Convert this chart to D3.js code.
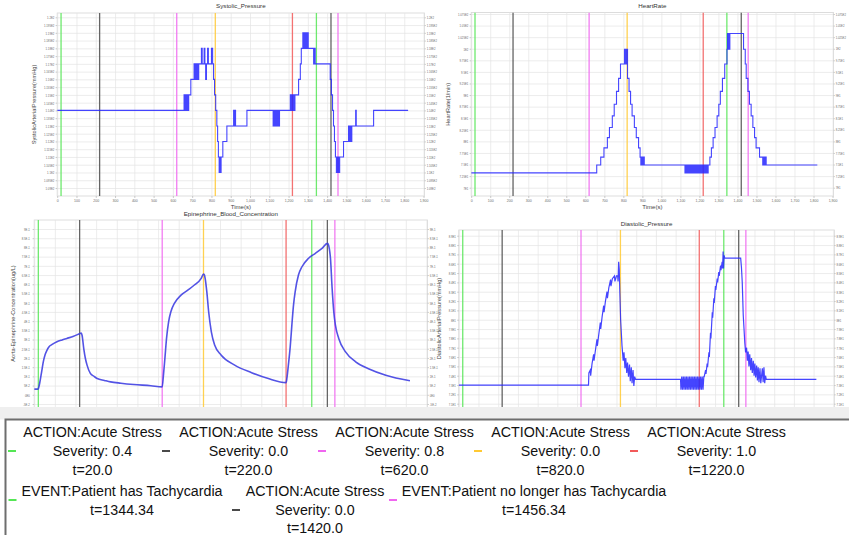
<!DOCTYPE html>
<html><head><meta charset="utf-8">
<script src="https://cdn.jsdelivr.net/npm/d3@7"></script>
<style>html,body{margin:0;padding:0;background:#fff;}svg{display:block}</style>
</head><body>
<svg id="c" width="849" height="535"></svg>
<script>
// ---------------- DATA ----------------
const xTickValues = [0,100,200,300,400,500,600,700,800,900,1000,1100,1200,1300,1400,1500,1600,1700,1800,1900];
const xTickLabels = ["0","100","200","300","400","500","600","700","800","900","1,000","1,100","1,200","1,300","1,400","1,500","1,600","1,700","1,800","1,900"];

const sysTicks = [120,119.5,119,118.5,118,117.5,117,116.5,116,115.5,115,114.5,114,113.5,113,112.5,112,111.5,111,110.5,110,109.5,109];
const sysTickLabels = ["1.2E2","1.195E2","1.19E2","1.185E2","1.18E2","1.175E2","1.17E2","1.165E2","1.16E2","1.155E2","1.15E2","1.145E2","1.14E2","1.135E2","1.13E2","1.125E2","1.12E2","1.115E2","1.11E2","1.105E2","1.1E2","1.095E2","1.09E2"];

const hrTicks = [107.5,105,102.5,100,97.5,95,92.5,90,87.5,85,82.5,80,77.5,75,72.5,70];
const hrTickLabels = ["1.075E2","1.05E2","1.025E2","1E2","9.75E1","9.5E1","9.25E1","9E1","8.75E1","8.5E1","8.25E1","8E1","7.75E1","7.5E1","7.25E1","7E1"];

const epiTicks = [0.9,0.85,0.8,0.75,0.7,0.65,0.6,0.55,0.5,0.45,0.4,0.35,0.3,0.25,0.2,0.15,0.1,0.05,0,-0.05];
const epiTickLabels = ["9E-1","8.5E-1","8E-1","7.5E-1","7E-1","6.5E-1","6E-1","5.5E-1","5E-1","4.5E-1","4E-1","3.5E-1","3E-1","2.5E-1","2E-1","1.5E-1","1E-1","5E-2","0E0","-5E-2"];

const diaTicks = [89,88,87,86,85,84,83,82,81,80,79,78,77,76,75,74,73,72,71];
const diaTickLabels = ["8.9E1","8.8E1","8.7E1","8.6E1","8.5E1","8.4E1","8.3E1","8.2E1","8.1E1","8E1","7.9E1","7.8E1","7.7E1","7.6E1","7.5E1","7.4E1","7.3E1","7.2E1","7.1E1"];

// Systolic pressure (stepped)
const sysT = [0,658,662,666,670,674,678,682, 693,710,714,718,722,726,730,734, 748,752,762,766,770,774,780,784, 800,806,811,816,822,828,832,836, 840,844,846,850,859,880,915,918, 922,925,984,1120,1123,1126,1129,1132, 1135,1138,1141,1144,1147,1150,1153,1209, 1212,1215,1218,1221,1224,1227,1230,1233, 1252,1261,1266,1274,1277,1280,1283,1286, 1289,1292,1296,1299,1302,1330,1333,1338, 1416,1422,1428,1433,1438,1443,1448,1452, 1455,1459,1462,1465,1485,1511,1516,1520, 1524,1528,1548,1551,1641,1820];
const sysV = [114,115,114,115,114,115,114,115, 116,117,116,117,116,117,116,117, 118,117,118,117,116,117,118,117, 118,117,116,115,114,113,112,111, 110,111,110,111,112,113,114,113, 114,113,114,113,114,113,114,113, 114,113,114,113,114,113,114,115, 114,115,114,115,114,115,114,115, 116,117,118,119,118,119,118,119, 118,119,118,119,118,117,118,117, 116,115,114,113,112,111,110,111, 110,111,110,111,112,113,112,113, 112,113,114,113,114,114];

// Heart rate (stepped)
const hrT = [0,660,681,698,716,727,742,752,764,775,785,806,808,810,812,814,816,818,822,830,838,846,858,868,880,888,892,895,898,901,904,907,910,
  1124,1128,1132,1136,1140,1144,1148,1152,1156,1160,1164,1168,1172,1176,1180,1184,1188,1192,1196,1200,1204,1208,1212,1216,1220,1224,1228,1232,1236,1240,1244,
  1246,1255,1263,1272,1282,1293,1302,1310,1321,1333,1345,1348,1351,1354,1357,1360,1432,1441,1446,1455,1463,1472,1481,1490,1498,1516,1533,1536,1539,1542,1545,1548,1551,1820];
const hrV = [73.2,74.9,76.6,78.6,80.8,83.0,85.5,88.0,90.8,93.6,96.7,99.9,96.7,99.9,96.7,99.9,96.7,99.9,93.6,90.8,88.0,85.5,83.0,80.8,78.6,76.6,74.9,76.6,74.9,76.6,74.9,76.6,74.9,
  73.2,74.9,73.2,74.9,73.2,74.9,73.2,74.9,73.2,74.9,73.2,74.9,73.2,74.9,73.2,74.9,73.2,74.9,73.2,74.9,73.2,74.9,73.2,74.9,73.2,74.9,73.2,74.9,73.2,74.9,73.2,
  74.9,76.6,78.6,80.8,83.0,85.5,88.0,90.8,93.6,96.7,99.9,103.3,99.9,103.3,99.9,103.3,99.9,96.7,93.6,90.8,88.0,85.5,83.0,80.8,78.6,76.6,74.9,76.6,74.9,76.6,74.9,76.6,74.9,74.9];

// Epinephrine concentration
const epiT = [0,18,20,26,36,44,52,61,73,85, 110,135,158,191,223,228,232,240,248,256, 272,290,305,340,370,420,483,565,620,626, 633,641,651,662,679,711,744,776,809,820, 824,828,836,845,858,874,906,971,1053,1134, 1220,1224,1231,1240,1248,1256,1264,1280,1297,1329, 1362,1394,1420,1424,1430,1435,1443,1451,1459,1475, 1508,1557,1622,1703,1820];
const epiV = [0.031,0.031,0.034,0.06,0.125,0.179,0.215,0.240,0.262,0.272, 0.288,0.298,0.306,0.318,0.333,0.335,0.322,0.251,0.197,0.161, 0.116,0.10,0.088,0.078,0.070,0.063,0.056,0.049,0.043,0.107, 0.197,0.306,0.396,0.451,0.496,0.541,0.568,0.596,0.632,0.655, 0.652,0.632,0.56,0.451,0.342,0.270,0.215,0.161,0.120,0.088, 0.066,0.09,0.16,0.26,0.378,0.487,0.559,0.65,0.695,0.741, 0.768,0.795,0.822,0.818,0.79,0.741,0.578,0.451,0.378,0.306, 0.233,0.179,0.140,0.106,0.076];

// Diastolic pressure
const diaT = [0,658,660,667,669,676,684,686,693,701,703,710,718,720,727,735,737,744,752,754,761,770,772,779,790,792,800,806,808,811,814,817,821,828,834,838,843,847,852,856,861,866,870,875,879,884,888,892,897,922,1125,
  1127,1131,1135,1139,1143,1147,1151,1155,1159,1163,1167,1171,1175,1179,1183,1187,1191,1195,1199,1203,1207,1211,1215,1219,1223,1227,1231,1235,1239,1243,
  1245,1252,1254,1260,1262,1269,1271,1277,1279,1286,1288,1294,1296,1302,1304,1311,1313,1319,1321,1328,1330,1336,1338,1341,1343,1346,1349,1430,1434,1438,1443,1447,1451,1455,1460,1464,1468,1472,1476,1481,1485,1489,1494,1498,1502,1506,1511,1515,1519,1523,1528,1532,1540,1544,1548,1552,1556,1560,1814];
const diaV = [73.0,73.0,74.3,74.6,74.0,75.3,76.3,75.6,76.7,77.9,77.2,78.4,79.7,79.0,80.3,81.5,80.8,82.0,83.0,82.3,83.4,84.3,83.6,84.4,84.7,84.1,84.7,84.7,84.1,86.2,85.4,83.0,80.0,77.2,75.6,76.5,74.8,75.9,74.3,75.4,73.9,75.2,73.4,74.9,73.2,74.6,72.9,73.9,73.6,73.6,73.6,
  72.5,73.9,72.5,73.9,72.5,73.9,72.5,73.9,72.5,73.9,72.5,73.9,72.5,73.9,72.5,73.9,72.5,73.9,72.5,73.9,72.5,73.9,72.5,73.9,72.5,73.9,72.5,73.9,72.5,73.9,
  73.9,74.6,74.2,75.3,74.9,76.5,76.0,78.6,78.0,80.8,80.2,82.3,81.8,83.6,83.2,84.4,84.0,85.1,84.7,85.8,85.3,86.2,85.5,87.3,85.5,86.9,86.6,86.6,85.6,84.0,80.5,79.0,77.5,76.5,77.0,75.6,76.6,75.0,76.3,74.6,75.9,74.3,75.6,74.0,75.3,73.8,75.1,73.5,74.9,73.3,74.8,73.2,74.8,73.3,74.9,73.2,74.0,73.6,73.6];

// Events
const eventTimes = [20,220,620,820,1220,1344.34,1420,1456.34];
const eventColors = ["#55e655","#4a4a4a","#f066f0","#ffc933","#f25a5a","#55e655","#4a4a4a","#f066f0"];

// Legend
const legendTexts = [
  ["ACTION:Acute Stress","Severity: 0.4","t=20.0"],
  ["ACTION:Acute Stress","Severity: 0.0","t=220.0"],
  ["ACTION:Acute Stress","Severity: 0.8","t=620.0"],
  ["ACTION:Acute Stress","Severity: 0.0","t=820.0"],
  ["ACTION:Acute Stress","Severity: 1.0","t=1220.0"],
  ["EVENT:Patient has Tachycardia","t=1344.34"],
  ["ACTION:Acute Stress","Severity: 0.0","t=1420.0"],
  ["EVENT:Patient no longer has Tachycardia","t=1456.34"]
];

// ---------------- DRAW ----------------
const svg = d3.select("#c");
const XMAX = 1905;
const FONT = "'Liberation Sans', Arial, sans-serif";

function squeeze(sel, f) {
  sel.each(function() {
    const L = this.getComputedTextLength();
    if (L > 0) d3.select(this).attr("textLength", L * f).attr("lengthAdjust", "spacingAndGlyphs");
  });
}

const panels = [
  {x0:57.2, x1:424.5, top:13, bottom:196, yTop:17.3, yBot:188, ticks:sysTicks, labels:sysTickLabels, t:sysT, v:sysV, curve:d3.curveStepAfter,
   title:"Systolic_Pressure", titleY:7.5, ylabel:"SystolicArterialPressure(mmHg)", ylabelX:36, xAxis:true, lw:1.1, lc:"#2424ff", pad:1.6, rfs:4.2, rsq:0.66},
  {x0:471.2, x1:833.5, top:12.5, bottom:196, yTop:14, yBot:187.7, ticks:hrTicks, labels:hrTickLabels, t:hrT, v:hrV, curve:d3.curveStepAfter,
   title:"HeartRate", titleY:7.5, ylabel:"HeartRate(1/min)", ylabelX:450, xAxis:true, lw:1.1, lc:"#2424ff", pad:1.6, rfs:3.6, rsq:0.77},
  {x0:34.2, x1:427.5, top:220, bottom:416, yTop:229, yBot:404, ticks:epiTicks, labels:epiTickLabels, t:epiT, v:epiV, curve:d3.curveMonotoneX,
   title:"Epinephrine_Blood_Concentration", titleY:215.5, ylabel:"Aorta-Epinephrine-Concentration(ug/L)", ylabelX:15, xAxis:false, lw:1.6, lc:"#3535e0", pad:3, rfs:4.2, rsq:0.66},
  {x0:458.8, x1:834.3, top:230, bottom:416, yTop:235.7, yBot:403.7, ticks:diaTicks, labels:diaTickLabels, t:diaT, v:diaV, curve:d3.curveLinear,
   title:"Diastolic_Pressure", titleY:225.5, ylabel:"DiastolicArterialPressure(mmHg)", ylabelX:441, xAxis:false, lw:1.2, lc:"#2424ff", pad:1.6, rfs:4.2, rsq:0.66}
];

panels.forEach((p, idx) => {
  const g = svg.append("g");
  const x = d3.scaleLinear().domain([0, XMAX]).range([p.x0, p.x1]);
  const y = d3.scaleLinear().domain([p.ticks[p.ticks.length-1], p.ticks[0]]).range([p.yBot, p.yTop]);
  const w = p.x1 - p.x0, h = p.bottom - p.top;

  g.append("rect").attr("x", p.x0).attr("y", p.top).attr("width", w).attr("height", h)
    .attr("fill", "#fff").attr("stroke", "#d4d4d4").attr("stroke-width", 0.8);

  // grids
  const gy = g.append("g").attr("transform", `translate(${p.x0},0)`)
    .call(d3.axisLeft(y).tickValues(p.ticks).tickSize(-w).tickFormat(""));
  gy.select(".domain").remove();
  gy.selectAll("line").attr("stroke", "#e4e4e4").attr("stroke-width", 0.7);
  const gx = g.append("g").attr("transform", `translate(0,${p.bottom})`)
    .call(d3.axisBottom(x).tickValues(xTickValues).tickSize(-h).tickFormat(""));
  gx.select(".domain").remove();
  gx.selectAll("line").attr("stroke", "#e4e4e4").attr("stroke-width", 0.7);

  // axes labels
  const al = g.append("g").attr("transform", `translate(${p.x0},0)`)
    .call(d3.axisLeft(y).tickValues(p.ticks).tickFormat((d,i)=>p.labels[i]).tickSize(1.6).tickPadding(p.pad - 0.3));
  const ar = g.append("g").attr("transform", `translate(${p.x1},0)`)
    .call(d3.axisRight(y).tickValues(p.ticks).tickFormat((d,i)=>p.labels[i]).tickSize(1.4).tickPadding(0.8));
  [[al, 4.2, 0.66], [ar, p.rfs, p.rsq]].forEach(([a, fs, sq]) => {
    a.select(".domain").remove();
    a.selectAll("line").attr("stroke", "#aaa").attr("stroke-width", 0.6);
    a.selectAll("text").attr("font-size", fs).attr("font-family", FONT).attr("fill", "#6a6a6a");
    squeeze(a.selectAll("text"), sq);
  });
  if (p.xAxis) {
    const ab = g.append("g").attr("transform", `translate(0,${p.bottom})`)
      .call(d3.axisBottom(x).tickValues(xTickValues).tickFormat((d,i)=>xTickLabels[i]).tickSize(2).tickPadding(0.8));
    ab.select(".domain").remove();
    ab.selectAll("line").attr("stroke", "#aaa").attr("stroke-width", 0.6);
    ab.selectAll("text").attr("font-size", 4.4).attr("font-family", FONT).attr("fill", "#6a6a6a");
    squeeze(ab.selectAll("text"), 0.8);
    g.append("text").attr("x", (p.x0+p.x1)/2).attr("y", 208.5).attr("text-anchor","middle")
      .attr("font-size", 6).attr("font-family", FONT).attr("fill", "#444").text("Time(s)");
  }

  // title
  g.append("text").attr("x", (p.x0+p.x1)/2).attr("y", p.titleY).attr("text-anchor","middle")
    .attr("font-size", 6.2).attr("font-family", FONT).attr("fill", "#333").text(p.title);
  // y label
  g.append("text").attr("transform", `translate(${p.ylabelX},${(p.top+Math.min(p.bottom,407))/2}) rotate(-90)`)
    .attr("text-anchor","middle").attr("font-size", 5.6).attr("font-family", FONT).attr("fill", "#444").text(p.ylabel);

  // clip
  const cid = "clip" + idx;
  svg.append("clipPath").attr("id", cid).append("rect")
    .attr("x", p.x0).attr("y", p.top).attr("width", w).attr("height", h);
  const pg = g.append("g").attr("clip-path", `url(#${cid})`);

  // event lines
  pg.selectAll(".ev").data(eventTimes).join("line")
    .attr("x1", d => x(d)).attr("x2", d => x(d)).attr("y1", p.top).attr("y2", p.bottom)
    .attr("stroke", (d,i) => eventColors[i]).attr("stroke-width", 1.3).attr("opacity", 0.85);

  // data line
  const line = d3.line().x(i => x(p.t[i])).y(i => y(p.v[i])).curve(p.curve);
  pg.append("path").attr("d", line(d3.range(p.t.length)))
    .attr("fill", "none").attr("stroke", p.lc).attr("stroke-width", p.lw).attr("opacity", 0.85);
});

// gray band and legend box
svg.append("rect").attr("x", 0).attr("y", 407).attr("width", 849).attr("height", 12.5).attr("fill", "#efefef");
svg.append("rect").attr("x", 5.5).attr("y", 419.5).attr("width", 850).attr("height", 120)
  .attr("fill", "#fff").attr("stroke", "#6e6e6e").attr("stroke-width", 2);

// legend layout
const legendPos = [
  {cx:92.5, rows:[432,451,470], mx:12, my:451},
  {cx:248.5, rows:[432,451,470], mx:166, my:451},
  {cx:404.5, rows:[432,451,470], mx:322, my:451},
  {cx:560.5, rows:[432,451,470], mx:478, my:451},
  {cx:716.5, rows:[432,451,470], mx:634, my:451},
  {cx:122, rows:[491,510], mx:12.5, my:500},
  {cx:315, rows:[491,510,528], mx:236, my:510},
  {cx:534, rows:[491,510], mx:393, my:500}
];
const lg = svg.append("g");
legendTexts.forEach((lines, i) => {
  const pos = legendPos[i];
  lg.append("line").attr("x1", pos.mx-4).attr("x2", pos.mx+4).attr("y1", pos.my).attr("y2", pos.my)
    .attr("stroke", eventColors[i]).attr("stroke-width", 2);
  lines.forEach((s, j) => {
    const t = lg.append("text").attr("x", pos.cx).attr("y", pos.rows[j]).attr("dy", "0.35em")
      .attr("text-anchor","middle").attr("font-size", 15.5).attr("font-family", FONT)
      .attr("fill", "#111").text(s);
    squeeze(t, 0.92);
  });
});
</script>
</body></html>
